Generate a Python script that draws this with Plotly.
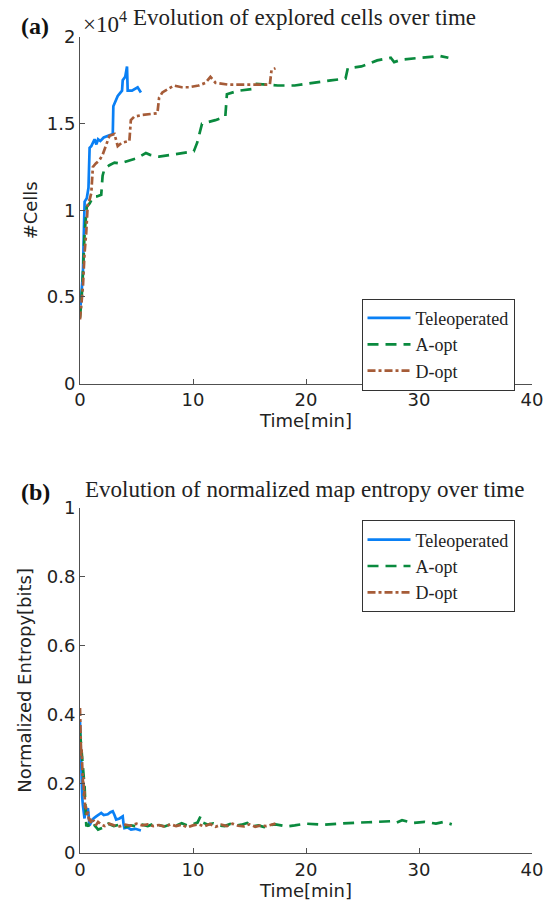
import plotly.graph_objects as go

# ---------------- data: explored cells ----------------
tele_t = [0.05, 0.15, 0.26, 0.35, 0.41, 0.6, 0.75, 0.85, 1.0, 1.29, 1.45, 1.6, 1.8, 2.1, 2.46, 2.9, 2.95,
          3.34, 3.72, 3.78, 4.0, 4.16, 4.22, 4.6, 5.1, 5.39]
tele_c = [4500, 5500, 6400, 9000, 10500, 10700, 11300, 13600, 13700, 14100, 13800, 14100, 14000, 14200,
          14300, 14400, 16000, 16600, 16900, 17500, 17700, 18300, 16900, 16900, 17100, 16800]

aopt_t = [0.0, 0.2, 0.41, 0.6, 0.85, 1.2, 1.5, 1.88, 2.0, 2.17, 2.6, 3.05, 3.5, 4.37, 5.0, 5.83, 6.2, 7.0,
          8.0, 8.76, 10.07, 10.37, 10.8, 11.98, 12.86, 13.0, 14.03, 15.2, 15.5, 17.5, 19.0, 22.2, 23.5,
          23.7, 24.9, 26.3, 27.5, 27.8, 28.5, 30.1, 31.9, 32.6]
aopt_c = [3800, 5500, 8700, 10200, 10400, 10800, 10800, 10900, 12000, 12400, 12600, 12750, 12700, 12900,
          13000, 13300, 13200, 13100, 13200, 13300, 13400, 13900, 15000, 15200, 15400, 16700, 16900, 17000,
          17300, 17200, 17200, 17500, 17600, 18200, 18300, 18650, 18800, 18550, 18700, 18800, 18900, 18800]

dopt_t = [0.0, 0.15, 0.26, 0.4, 0.55, 0.7, 0.85, 1.0, 1.14, 1.4, 1.73, 2.0, 2.17, 2.61, 3.05, 3.34, 3.7,
          4.37, 4.5, 4.66, 4.8, 5.5, 6.85, 7.0, 7.29, 7.8, 8.32, 9.0, 9.64, 10.5, 11.1, 11.54, 12.0, 13.15,
          15.0, 16.8, 16.95, 17.3]
dopt_c = [3700, 4800, 5600, 7500, 8700, 10500, 10600, 11000, 12500, 12700, 12900, 13200, 13500, 14300,
          14400, 13700, 13900, 14000, 15200, 15300, 15400, 15500, 15600, 16500, 16800, 17000, 17200, 17100,
          17100, 17200, 17350, 17700, 17350, 17250, 17250, 17250, 18100, 18200]

# ---------------- data: normalized entropy ----------------
tele_et = [0.0, 0.05, 0.1, 0.15, 0.2, 0.25, 0.3, 0.4, 0.5, 0.6, 0.7, 0.85, 1.0, 1.2, 1.44, 1.7, 1.88, 2.1,
           2.46, 2.7, 2.9, 3.05, 3.2, 3.5, 3.78, 3.85, 3.93, 4.2, 4.51, 4.9, 5.39]
tele_e = [0.38, 0.30, 0.24, 0.20, 0.16, 0.14, 0.12, 0.10, 0.13, 0.12, 0.13, 0.08, 0.09, 0.10, 0.106, 0.112,
          0.116, 0.110, 0.112, 0.118, 0.121, 0.110, 0.097, 0.100, 0.106, 0.085, 0.072, 0.074, 0.068, 0.070,
          0.065]

aopt_et = [0.0, 0.08, 0.15, 0.26, 0.35, 0.41, 0.5, 0.56, 0.7, 0.85, 1.0, 1.3, 1.6, 2.0, 2.5, 3.0, 3.5, 4.0,
           4.5, 5.0, 5.5, 6.0, 6.5, 7.0, 7.5, 8.0, 8.5, 9.0, 9.5, 10.0, 10.4, 10.66, 10.9, 11.3, 11.8, 12.3,
           12.8, 13.3, 13.8, 14.3, 14.8, 15.3, 15.8, 16.3, 16.8, 17.3, 18.27, 19.0, 20.0, 21.5, 23.5, 24.5,
           25.5, 26.5, 27.5, 28.0, 28.5, 29.5, 30.5, 31.5, 32.2, 32.9]
aopt_e = [0.35, 0.32, 0.30, 0.27, 0.22, 0.19, 0.12, 0.077, 0.085, 0.07, 0.075, 0.08, 0.068, 0.073, 0.085,
          0.078, 0.082, 0.075, 0.08, 0.077, 0.082, 0.078, 0.084, 0.08, 0.077, 0.083, 0.079, 0.086, 0.08,
          0.083, 0.088, 0.106, 0.088, 0.082, 0.086, 0.08, 0.078, 0.084, 0.079, 0.082, 0.087, 0.077, 0.08,
          0.075, 0.081, 0.083, 0.077, 0.080, 0.085, 0.082, 0.087, 0.088, 0.089, 0.09, 0.092, 0.088, 0.095,
          0.087, 0.09, 0.085, 0.09, 0.083]

dopt_et = [0, 0.03, 0.06, 0.1, 0.14, 0.18, 0.22, 0.26, 0.3, 0.35, 0.4, 0.45, 0.5, 0.6, 0.7, 0.8, 0.9, 1.0,
           1.2, 1.4, 1.6, 1.9, 2.2, 2.6, 3.0, 3.5, 4.0, 4.5, 5.0, 5.5, 6.0, 6.5, 7.0, 7.5, 8.0, 8.5, 9.0,
           9.5, 10.0, 10.5, 11.0, 11.5, 12.0, 12.5, 13.0, 13.5, 14.0, 14.5, 15.0, 15.5, 16.0, 16.5, 17.0, 17.3]
dopt_e = [0.42, 0.33, 0.36, 0.28, 0.30, 0.25, 0.27, 0.2, 0.22, 0.16, 0.18, 0.13, 0.14, 0.11, 0.12, 0.09, 0.1,
          0.085, 0.095, 0.08, 0.09, 0.082, 0.078, 0.085, 0.08, 0.077, 0.082, 0.079, 0.085, 0.08, 0.083,
          0.078, 0.081, 0.076, 0.083, 0.078, 0.082, 0.074, 0.08, 0.083, 0.077, 0.084, 0.076, 0.082, 0.078,
          0.085, 0.079, 0.077, 0.083, 0.076, 0.08, 0.078, 0.083, 0.085]

# ---------------- ticks / labels ----------------
x_ticks = [0, 10, 20, 30, 40]
cells_tickvals = [0, 5000, 10000, 15000, 20000]
cells_ticktext = ["0", "0.5", "1", "1.5", "2"]
ent_ticks = [0, 0.2, 0.4, 0.6, 0.8, 1]
ent_ticktext = ["0", "0.2", "0.4", "0.6", "0.8", "1"]
names = ["Teleoperated", "A-opt", "D-opt"]

BLUE = "#0A80F5"
GREEN = "#0A8A3E"
BROWN = "#A65C38"
AX = "#505050"
SERIF = "Liberation Serif"
SANS = "DejaVu Sans"

W, H = 555, 908
ML, MR, MT, MB = 80, 19, 37, 54
PW = W - ML - MR
PH = H - MT - MB


def px(x):
    return (x - ML) / PW


def py(y):
    return (H - MB - y) / PH


fig = go.Figure()
styles = [
    dict(color=BLUE, width=2.7, dash="solid"),
    dict(color=GREEN, width=2.7, dash="11px,7px"),
    dict(color=BROWN, width=2.7, dash="8px,3px,3px,3px"),
]
top = [(tele_t, tele_c), (aopt_t, aopt_c), (dopt_t, dopt_c)]
bot = [(tele_et, tele_e), (aopt_et, aopt_e), (dopt_et, dopt_e)]
for (t, c), st, nm in zip(top, styles, names):
    fig.add_trace(go.Scatter(x=t, y=c, mode="lines", name=nm, line=st,
                             xaxis="x", yaxis="y", legend="legend"))
for (t, e), st, nm in zip(bot, styles, names):
    fig.add_trace(go.Scatter(x=t, y=e, mode="lines", name=nm, line=st,
                             xaxis="x2", yaxis="y2", legend="legend2"))

axcommon = dict(showline=True, linecolor=AX, linewidth=1, ticks="inside", ticklen=5,
                tickcolor=AX, showgrid=False, zeroline=False, mirror=False,
                tickfont=dict(family=SANS, size=18, color="#222"))

legcommon = dict(xanchor="left", yanchor="top", bgcolor="white", bordercolor="#333", borderwidth=1,
                 font=dict(family=SERIF, size=18, color="#222"), tracegroupgap=0, itemwidth=43)

fig.update_layout(
    width=W, height=H,
    margin=dict(l=ML, r=MR, t=MT, b=MB),
    paper_bgcolor="white", plot_bgcolor="white",
    xaxis=dict(domain=[0, 1], range=[0, 40], tickvals=x_ticks, anchor="y",
               title=dict(text="Time[min]", font=dict(family=SANS, size=18, color="#222"), standoff=4),
               **axcommon),
    yaxis=dict(domain=[py(384), 1], range=[0, 20000], tickvals=cells_tickvals, ticktext=cells_ticktext,
               anchor="x",
               title=dict(text="#Cells", font=dict(family=SANS, size=18, color="#222"), standoff=4),
               **axcommon),
    xaxis2=dict(domain=[0, 1], range=[0, 40], tickvals=x_ticks, anchor="y2",
                title=dict(text="Time[min]", font=dict(family=SANS, size=18, color="#222"), standoff=4),
                **axcommon),
    yaxis2=dict(domain=[0, py(508.3)], range=[0, 1], tickvals=ent_ticks, ticktext=ent_ticktext,
                anchor="x2",
                title=dict(text="Normalized Entropy[bits]", font=dict(family=SANS, size=18, color="#222"),
                           standoff=10),
                **axcommon),
    legend=dict(x=px(364), y=py(299), **legcommon),
    legend2=dict(x=px(364), y=py(521), **legcommon),
    showlegend=True,
)

ann = [
    dict(text="Evolution of explored cells over time", x=px(306.5), y=py(17),
         font=dict(family=SERIF, size=23, color="#222")),
    dict(text="Evolution of normalized map entropy over time", x=px(306), y=py(490),
         font=dict(family=SERIF, size=23, color="#222")),
    dict(text="<b>(a)</b>", x=px(35), y=py(26), font=dict(family=SERIF, size=24, color="#111")),
    dict(text="<b>(b)</b>", x=px(35), y=py(493), font=dict(family=SERIF, size=24, color="#111")),
    dict(text="×10<sup>4</sup>", x=px(81), y=py(22), xanchor="left",
         font=dict(family=SERIF, size=23, color="#222")),
]
for a in ann:
    a.setdefault("xanchor", "center")
    fig.add_annotation(xref="paper", yref="paper", showarrow=False, yanchor="middle", **a)

fig.write_html("out.html")
